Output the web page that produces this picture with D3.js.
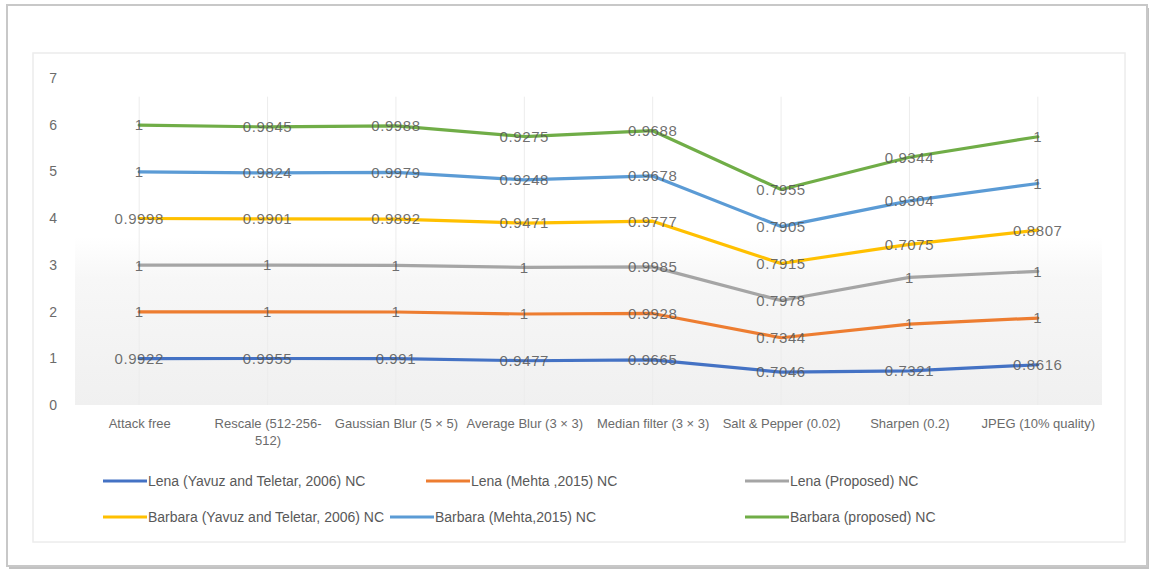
<!DOCTYPE html>
<html>
<head>
<meta charset="utf-8">
<script src="https://cdn.jsdelivr.net/npm/d3@7"></script>
<style>
  html, body { margin: 0; padding: 0; background: #fff; }
  svg { display: block; font-family: "Liberation Sans", Arial, sans-serif; }
</style>
</head>
<body>
<svg id="chart" width="1151" height="573"></svg>
<script>
// Attack categories along the x axis
const categories = [
  "Attack free", "Rescale (512-256-512)", "Gaussian Blur (5 × 5)", "Average Blur (3 × 3)",
  "Median filter (3 × 3)", "Salt & Pepper (0.02)", "Sharpen (0.2)", "JPEG (10% quality)"
];
// Tick label lines (wrapped as shown under the axis)
const tickLabels = [
  ["Attack free"], ["Rescale (512-256-", "512)"], ["Gaussian Blur (5 × 5)"], ["Average Blur (3 × 3)"],
  ["Median filter (3 × 3)"], ["Salt & Pepper (0.02)"], ["Sharpen (0.2)"], ["JPEG (10% quality)"]
];
const yTicks = [0, 1, 2, 3, 4, 5, 6, 7];

// NC values per series (stacked in this order)
const lenaYavuz     = [0.9922, 0.9955, 0.991, 0.9477, 0.9665, 0.7046, 0.7321, 0.8616];
const lenaMehta     = [1, 1, 1, 1, 0.9928, 0.7344, 1, 1];
const lenaProposed  = [1, 1, 1, 1, 0.9985, 0.7978, 1, 1];
const barbaraYavuz  = [0.9998, 0.9901, 0.9892, 0.9471, 0.9777, 0.7915, 0.7075, 0.8807];
const barbaraMehta  = [1, 0.9824, 0.9979, 0.9248, 0.9678, 0.7905, 0.9304, 1];
const barbaraProp   = [1, 0.9845, 0.9988, 0.9275, 0.9688, 0.7955, 0.9344, 1];

const seriesNames = [
  "Lena (Yavuz and Teletar, 2006) NC", "Lena (Mehta ,2015) NC", "Lena (Proposed) NC",
  "Barbara (Yavuz and Teletar, 2006) NC", "Barbara (Mehta,2015) NC", "Barbara (proposed) NC"
];
const seriesValues = [lenaYavuz, lenaMehta, lenaProposed, barbaraYavuz, barbaraMehta, barbaraProp];
const seriesColors = ["#4472C4", "#ED7D31", "#A5A5A5", "#FFC000", "#5B9BD5", "#70AD47"];

const svg = d3.select("#chart");

// frame with a soft drop shadow
const defs = svg.append("defs");
const grad = defs.append("linearGradient").attr("id", "plotShade")
  .attr("x1", 0).attr("y1", 0).attr("x2", 0).attr("y2", 1);
grad.append("stop").attr("offset", "0%").attr("stop-color", "#ffffff");
grad.append("stop").attr("offset", "25%").attr("stop-color", "#f7f7f7");
grad.append("stop").attr("offset", "100%").attr("stop-color", "#f0f0f0");

svg.append("rect").attr("x", 9).attr("y", 8).attr("width", 1140).attr("height", 561)
  .attr("fill", "#9a9a9a").attr("opacity", 0.6);
svg.append("rect").attr("x", 7).attr("y", 5).attr("width", 1140).attr("height", 561)
  .attr("fill", "#fff").attr("stroke", "#c8c8c8").attr("stroke-width", 2);
svg.append("rect").attr("x", 33).attr("y", 53).attr("width", 1092).attr("height", 489)
  .attr("fill", "#fff").attr("stroke", "#ececec").attr("stroke-width", 1.5);

// scales
const x = d3.scaleBand().domain(categories).range([75, 1102]).padding(0);
const cx = c => x(c) + x.bandwidth() / 2;
const y = d3.scaleLinear().domain([0, 7]).range([405, 78]);

// light shading in the lower part of the plot
svg.append("rect").attr("x", 75).attr("y", y(3.6)).attr("width", 1102 - 75)
  .attr("height", y(0) - y(3.6)).attr("fill", "url(#plotShade)");

// vertical grid lines at each category
svg.append("g").selectAll("line").data(categories).join("line")
  .attr("x1", d => cx(d)).attr("x2", d => cx(d))
  .attr("y1", y(6.6)).attr("y2", y(0))
  .attr("stroke", "#ececec").attr("stroke-width", 1);

// y axis labels
const yAxis = d3.axisLeft(y).tickValues(yTicks).tickFormat(d3.format("d")).tickSize(0).tickPadding(0);
svg.append("g").attr("transform", "translate(57,0)").call(yAxis)
  .call(g => g.select(".domain").remove())
  .call(g => g.selectAll("text").attr("fill", "#6b6b6b")
    .style("font-size", "14px").style("font-family", "'Liberation Sans', Arial, sans-serif"));

// x axis labels
const xAxis = d3.axisBottom(d3.scalePoint().domain(categories).range([cx(categories[0]), cx(categories[7])]))
  .tickSize(0).tickPadding(0).tickFormat("");
const xg = svg.append("g").attr("transform", `translate(0,${y(0)})`).call(xAxis);
xg.select(".domain").remove();
xg.selectAll(".tick").each(function(d, i) {
  const t = d3.select(this).append("text")
    .attr("fill", "#6b6b6b").attr("text-anchor", "middle")
    .style("font-size", "13px");
  tickLabels[i].forEach((line, j) => {
    t.append("tspan").attr("x", 0).attr("y", 23 + j * 17).text(line);
  });
});

// stacked totals
const table = categories.map((c, i) => {
  const row = { category: c };
  seriesNames.forEach((s, k) => row[s] = seriesValues[k][i]);
  return row;
});
const stacked = d3.stack().keys(seriesNames)(table);

const line = d3.line().x(d => cx(d.data.category)).y(d => y(d[1]));

svg.append("g").selectAll("path").data(stacked).join("path")
  .attr("d", line)
  .attr("fill", "none")
  .attr("stroke", (d, i) => seriesColors[i])
  .attr("stroke-width", 3.2)
  .attr("stroke-linejoin", "round")
  .attr("stroke-linecap", "round");

// value labels, centred on each point
const labels = svg.append("g");
stacked.forEach((s, k) => {
  labels.selectAll(null).data(s).join("text")
    .attr("x", d => cx(d.data.category))
    .attr("y", d => y(d[1]))
    .attr("dy", "0.36em")
    .attr("text-anchor", "middle")
    .attr("fill", "#555")
    .attr("fill-opacity", 0.85)
    .style("font-size", "15px")
    .style("letter-spacing", "0.6px")
    .text((d, i) => seriesValues[k][i]);
});

// legend: two rows of three
const legendX = [103, 426, 745, 103, 390, 745];
const legendRows = [481, 517];
const lg = svg.append("g");
seriesNames.forEach((name, i) => {
  const row = legendRows[Math.floor(i / 3)];
  const g = lg.append("g").attr("transform", `translate(${legendX[i]},${row})`);
  g.append("line").attr("x1", 0).attr("x2", 44).attr("y1", 0).attr("y2", 0)
    .attr("stroke", seriesColors[i]).attr("stroke-width", 3.2);
  g.append("text").attr("x", 45).attr("y", 0).attr("dy", "0.35em")
    .attr("fill", "#595959").style("font-size", "14px").text(name);
});
</script>
</body>
</html>
